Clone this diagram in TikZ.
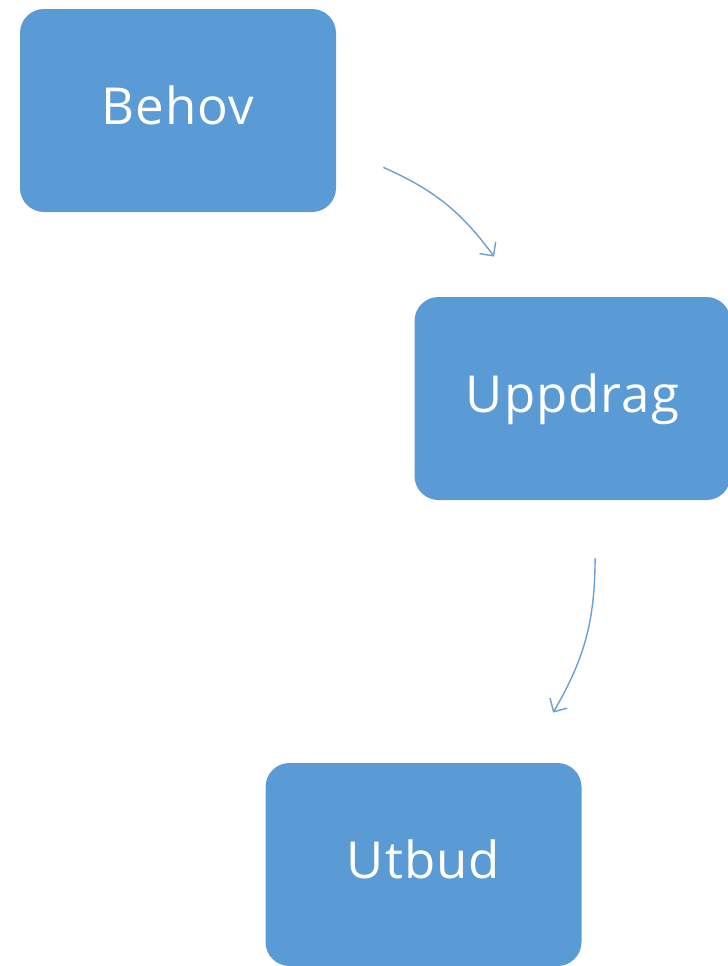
\documentclass[tikz,border=0pt]{standalone}
\usepackage{fontspec}
\setmainfont{Open Sans}[LetterSpace=2]
\usepackage{xcolor}
\usepackage{tikz}
\usetikzlibrary{arrows.meta}
\definecolor{boxblue}{HTML}{5B9BD5}
\definecolor{arrowblue}{HTML}{6A9FD0}

\begin{document}
\begin{tikzpicture}[x=0.5pt,y=-0.5pt,
  stage/.style={fill=boxblue, rounded corners=12pt, text=white, font=\fontsize{25.5}{30}\selectfont,
    text height=18.2pt, text depth=4pt,
    minimum width=158pt, minimum height=101.5pt, inner sep=0pt, anchor=center},
  flow/.style={draw=arrowblue, line width=0.7pt, -{Straight Barb[length=5pt,width=10pt]}}]
\useasboundingbox (0,0) rectangle (728,966);
\node[stage] (behov) at (178,110.5) {Behov};
\node[stage] (uppdrag) at (572.5,398.5) {Uppdrag};
\node[stage] (utbud) at (423.5,864.5) {Utbud};
\coordinate (b1) at ([shift={(47,-45)}]behov.south east);
\coordinate (u1) at ([shift={(80,-40)}]uppdrag.north west);
\coordinate (u2) at ([shift={(181,58)}]uppdrag.south west);
\coordinate (t1) at ([shift={(288,-50)}]utbud.north west);
\draw[flow] (b1) to[bend left=15] (u1);
\draw[flow] (u2) to[bend left=15] (t1);
\end{tikzpicture}
\end{document}
